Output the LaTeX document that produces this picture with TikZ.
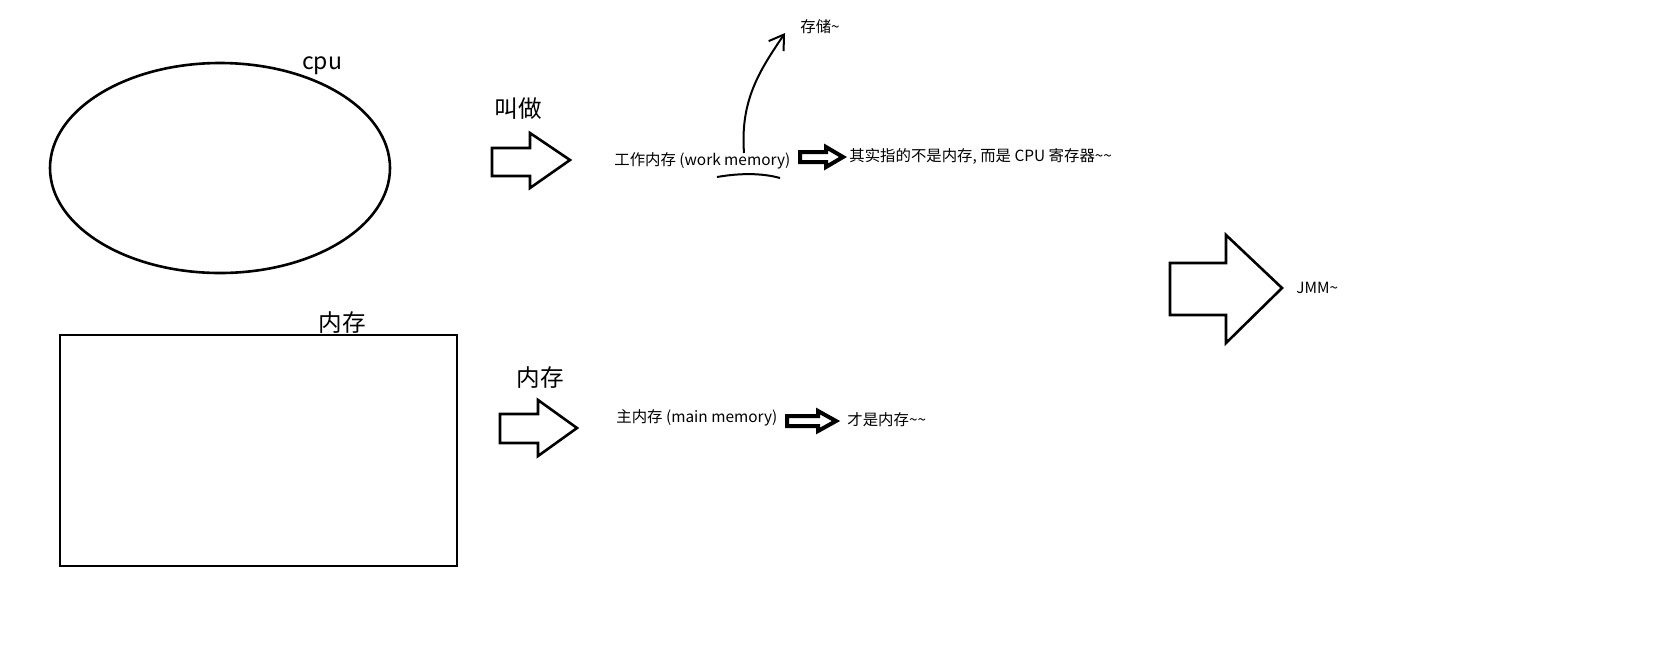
\documentclass[tikz,border=0pt]{standalone}
\usepackage{fontspec}
\setmainfont{Noto Sans CJK SC}
\usepackage{tikz}
\usetikzlibrary{arrows.meta, positioning, calc}

\begin{document}
\begin{tikzpicture}[x=0.5pt, y=-0.5pt,
  shapeline/.style={draw, line width=1.3pt},
  blockarrow/.style={draw, line width=1.3pt, line join=miter},
  fatarrow/.style={draw, line width=2pt, line join=miter},
  bigtext/.style={inner sep=0pt, font=\fontsize{11.8}{14}\selectfont},
  smalltext/.style={inner sep=0pt, font=\fontsize{7.7}{10}\selectfont}
]
  \useasboundingbox (0,0) rectangle (1657,671);

  % CPU ellipse
  \draw[shapeline] (220,168) ellipse [x radius=170, y radius=105];
  \node[bigtext, font=\fontsize{11.5}{14}\selectfont] (cpu) at (322,66) {cpu};

  % Memory box
  \draw[shapeline] (60,335) rectangle (457,566);
  \node[bigtext] (mem) at (342,323) {内存};

  % Upper block arrow
  \node[bigtext] (call) at (518,109) {叫做};
  \draw[blockarrow] (492,148) -- (530,148) -- (530,133) -- (570,160)
    -- (530,188) -- (530,176) -- (492,176) -- cycle;

  % Work memory
  \node[smalltext, anchor=west] (work) at (614,161) {工作内存 (work memory)};
  \coordinate (squig) at (744,153);
  \draw[line width=1pt] (717,177) .. controls (740,173) and (762,173) .. (780,178);
  \node[smalltext, anchor=west] (store) at (800,27) {存储\textasciitilde};
  \draw[line width=1pt, -{Straight Barb[length=7pt, width=9pt]}]
    (squig) .. controls (740,100) and (760,70) .. (785,33);

  \draw[fatarrow] (800,152) -- (826,152) -- (826,147) -- (843,157)
    -- (826,167) -- (826,162) -- (800,162) -- cycle;
  \node[smalltext, anchor=west] (cpureg) at (849,156) {其实指的不是内存, 而是 CPU 寄存器\textasciitilde\textasciitilde};

  % Lower block arrow
  \node[bigtext] (mem2) at (540,378) {内存};
  \draw[blockarrow] (500,414) -- (538,414) -- (538,400) -- (577,428)
    -- (538,456) -- (538,443) -- (500,443) -- cycle;

  % Main memory
  \node[smalltext, anchor=west] (main) at (616,418) {主内存 (main memory)};
  \draw[fatarrow] (787,416) -- (818,416) -- (818,411) -- (836,421)
    -- (818,431) -- (818,426) -- (787,426) -- cycle;
  \node[smalltext, anchor=west] (real) at (847,420) {才是内存\textasciitilde\textasciitilde};

  % JMM arrow
  \draw[blockarrow] (1170,263) -- (1226,263) -- (1226,235) -- (1282,288)
    -- (1226,343) -- (1226,315) -- (1170,315) -- cycle;
  \node[smalltext, anchor=west] (jmm) at (1296,288) {JMM\textasciitilde};
\end{tikzpicture}
\end{document}
